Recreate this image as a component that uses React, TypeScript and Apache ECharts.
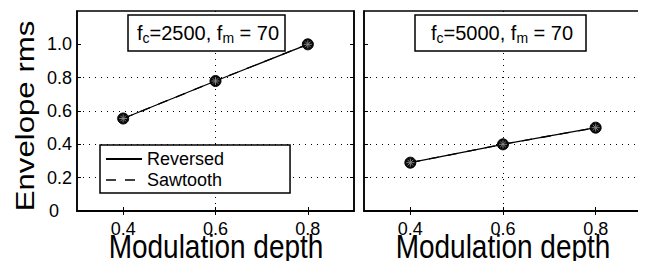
import React, { useEffect, useRef } from "react";
import * as echarts from "echarts";

const depths = [0.4, 0.6, 0.8];
const reversed2500 = [0.555, 0.78, 1.0];
const sawtooth2500 = [0.555, 0.78, 1.0];
const reversed5000 = [0.29, 0.4, 0.5];
const sawtooth5000 = [0.29, 0.4, 0.5];
const yTicks = [0, 0.2, 0.4, 0.6, 0.8, 1.0];
const panelTitles = [
  { fc: "2500", fm: "70" },
  { fc: "5000", fm: "70" },
];
const legendNames = ["Reversed", "Sawtooth"];
const xTitle = "Modulation depth";
const yTitle = "Envelope rms";

const FONT = "'Liberation Sans', Arial, Helvetica, sans-serif";

export default function App() {
  const ref = useRef<HTMLDivElement>(null);
  useEffect(() => {
    if (!ref.current) return;
    const chart = echarts.init(ref.current, null, { renderer: "svg" });
    const pairs = (ys: number[]) => depths.map((x, i) => [x, ys[i]]);
    const grids = [
      { left: 77, top: 11, width: 277, height: 200 },
      { left: 364, top: 11, width: 278, height: 200 },
    ];
    const xAxisBase = (gi: number, pos: "bottom" | "top") => ({
      type: "value",
      gridIndex: gi,
      position: pos,
      min: 0.3,
      max: 0.9,
      interval: 0.1,
      axisLine: { show: true, lineStyle: { color: "#000", width: 1.5 } },
      axisTick: {
        show: true,
        inside: true,
        length: 4,
        lineStyle: { color: "#000" },
        customValues: depths,
      },
      axisLabel: {
        show: pos === "bottom",
        customValues: depths,
        formatter: (v: number) => v.toFixed(1),
        color: "#000",
        fontSize: 18,
        fontFamily: FONT,
        margin: 9,
      },
      splitLine: {
        show: pos === "bottom",
        showMinLine: false,
        showMaxLine: false,
        lineStyle: { color: "#000", type: [1, 5], width: 1 },
      },
    });
    const yAxisBase = (gi: number, pos: "left" | "right", labels: boolean) => ({
      type: "value",
      gridIndex: gi,
      position: pos,
      min: 0,
      max: 1.2,
      interval: 0.2,
      axisLine: { show: true, lineStyle: { color: "#000", width: 1.5 } },
      axisTick: {
        show: true,
        inside: true,
        length: 4,
        lineStyle: { color: "#000" },
        customValues: yTicks,
      },
      axisLabel: {
        show: labels,
        customValues: yTicks,
        formatter: (v: number) => (v === 0 ? "{z|0}" : v.toFixed(1)),
        color: "#000",
        fontSize: 18,
        fontFamily: FONT,
        margin: 5,
        rich: {
          z: { fontSize: 18, fontFamily: FONT, color: "#000", padding: [0, 13, 0, 0] },
        },
      },
      splitLine: {
        show: pos === "left",
        showMinLine: false,
        showMaxLine: false,
        lineStyle: { color: "#000", type: [1, 5], width: 1 },
      },
    });

    const lineSeries = (name: string, gi: number, ys: number[], dashed: boolean) => ({
      type: "line",
      name,
      xAxisIndex: gi * 2,
      yAxisIndex: gi * 2,
      data: pairs(ys),
      symbol: "none",
      showSymbol: false,
      lineStyle: { color: "#000", width: 1.3, type: dashed ? [10, 9] : "solid" },
      itemStyle: { color: "#000" },
      z: 3,
    });
    const circleMarks = (gi: number, ys: number[]) => ({
      type: "scatter",
      xAxisIndex: gi * 2,
      yAxisIndex: gi * 2,
      data: pairs(ys),
      symbol: "circle",
      symbolSize: 11,
      itemStyle: { color: "#0a0a0a", borderColor: "#000", borderWidth: 1, opacity: 1 },
      z: 4,
    });
    const starMarks = (gi: number, ys: number[]) => ({
      type: "scatter",
      xAxisIndex: gi * 2,
      yAxisIndex: gi * 2,
      data: pairs(ys),
      symbol:
        "path://M0,-1L0,1M-1,0L1,0M-0.7,-0.7L0.7,0.7M-0.7,0.7L0.7,-0.7",
      symbolSize: 8,
      itemStyle: { color: "none", borderColor: "#8a8a8a", borderWidth: 0.9, opacity: 1 },
      z: 5,
    });

    const titleText = (t: { fc: string; fm: string }) =>
      `{n|f}{s|c}{n|=${t.fc}, f}{s|m}{n| = ${t.fm}}`;
    const rich = {
      n: { fontSize: 20, fontFamily: FONT, fontWeight: "normal", color: "#000", lineHeight: 24 },
      s: {
        fontSize: 14,
        fontFamily: FONT,
        fontWeight: "normal",
        color: "#000",
        verticalAlign: "bottom",
        padding: [10, 0, 0, 0],
        lineHeight: 24,
      },
    };

    chart.setOption({
      animation: false,
      backgroundColor: "#fff",
      grid: grids.map((g) => ({
        ...g,
        show: true,
        outerBoundsMode: "none",
        containLabel: false,
        borderColor: "#000",
        borderWidth: 1.5,
        backgroundColor: "transparent",
      })),
      title: [
        {
          text: titleText(panelTitles[0]),
          left: 128,
          top: 15,
          padding: [6, 6, 6, 9],
          borderColor: "#000",
          borderWidth: 1.5,
          backgroundColor: "#fff",
          textStyle: { rich, fontWeight: "normal" },
        },
        {
          text: titleText(panelTitles[1]),
          left: 415,
          top: 15,
          padding: [6, 13, 6, 16],
          borderColor: "#000",
          borderWidth: 1.5,
          backgroundColor: "#fff",
          textStyle: { rich, fontWeight: "normal" },
        },
      ],
      legend: {
        data: [
          { name: legendNames[0] },
          { name: legendNames[1], lineStyle: { type: [10, 9], width: 1.3, color: "#000" } },
        ],
        orient: "vertical",
        left: 100,
        top: 145,
        itemWidth: 36,
        itemHeight: 14,
        itemGap: 3,
        padding: [5, 66, 4, 5],
        backgroundColor: "#fff",
        borderColor: "#000",
        borderWidth: 1.5,
        borderRadius: 0,
        itemStyle: { opacity: 0 },
        textStyle: { color: "#000", fontSize: 18, fontFamily: FONT },
      },
      graphic: [
        {
          type: "text",
          x: 216,
          y: 230,
          scaleY: 1.2,
          style: {
            text: xTitle,
            fontSize: 28,
            fontFamily: FONT,
            fill: "#000",
            textAlign: "center",
            textVerticalAlign: "top",
          },
        },
        {
          type: "text",
          x: 503,
          y: 230,
          scaleY: 1.2,
          style: {
            text: xTitle,
            fontSize: 28,
            fontFamily: FONT,
            fill: "#000",
            textAlign: "center",
            textVerticalAlign: "top",
          },
        },
        {
          type: "text",
          x: 25,
          y: 116,
          rotation: Math.PI / 2,
          scaleX: 1.2,
          style: {
            text: yTitle,
            fontSize: 26,
            fontFamily: FONT,
            fill: "#000",
            textAlign: "center",
            textVerticalAlign: "middle",
          },
        },
      ],
      xAxis: [
        xAxisBase(0, "bottom"),
        xAxisBase(0, "top"),
        xAxisBase(1, "bottom"),
        xAxisBase(1, "top"),
      ],
      yAxis: [
        yAxisBase(0, "left", true),
        yAxisBase(0, "right", false),
        yAxisBase(1, "left", false),
        yAxisBase(1, "right", false),
      ],
      series: [
        lineSeries(legendNames[0], 0, reversed2500, false),
        lineSeries(legendNames[1], 0, sawtooth2500, true),
        circleMarks(0, reversed2500),
        starMarks(0, sawtooth2500),
        lineSeries(legendNames[0], 1, reversed5000, false),
        lineSeries(legendNames[1], 1, sawtooth5000, true),
        circleMarks(1, reversed5000),
        starMarks(1, sawtooth5000),
      ],
    });
    return () => chart.dispose();
  }, []);
  return <div ref={ref} style={{ width: 646, height: 269, margin: -8 }} />;
}
